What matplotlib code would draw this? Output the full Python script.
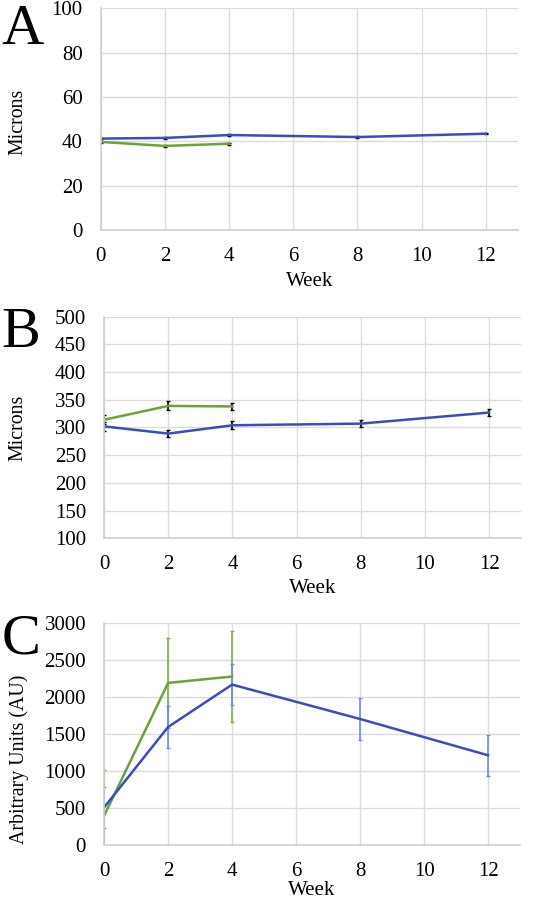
import matplotlib
matplotlib.use("Agg")
import matplotlib.pyplot as plt

plt.rcParams['font.family'] = ['Liberation Serif', 'DejaVu Serif']

weeks_blue = [0, 2, 4, 8, 12]
weeks_green = [0, 2, 4]

a_blue = [41.3, 41.6, 42.9, 42.0, 43.5]
a_blue_err = [0.4, 0.4, 0.4, 0.4, 0.3]
a_green = [39.8, 38.0, 39.0]
a_green_err = [0.5, 0.5, 0.5]

b_blue = [302, 289, 304, 307, 327]
b_blue_err = [8, 6, 7, 6, 6]
b_green = [314, 339, 338]
b_green_err = [8, 8, 7]

c_blue = [509, 1594, 2166, 1702, 1212]
c_blue_err = [280, 277, 280, 277, 279]
c_green = [396, 2189, 2275]
c_green_err = [615, 605, 610]

BLUE = '#3B4CC0'
GREEN = '#6BA33A'
BLUE_ERR = '#6E8FDA'
GREEN_ERR = '#7DAF4A'
GRID = '#DCDCDC'

fig = plt.figure(figsize=(5.48, 9.0), dpi=100)

def style(ax, ylim, yticks, ylabel, lx, ly, xpad=4):
    ax.set_xlim(0, 13)
    ax.set_ylim(*ylim)
    ax.set_xticks(range(0, 13, 2))
    ax.set_yticks(yticks)
    ax.grid(True, color=GRID, linewidth=1.0)
    ax.set_axisbelow(True)
    for s in ['top', 'right']:
        ax.spines[s].set_visible(False)
    for s in ['left', 'bottom']:
        ax.spines[s].set_color('#D0D0D0')
        ax.spines[s].set_linewidth(1.2)
    ax.tick_params(axis='x', length=0, labelsize=15, pad=12)
    ax.tick_params(axis='y', length=0, labelsize=15, pad=13)
    ax.set_xlabel('Week', fontsize=15, labelpad=xpad)
    ax.set_ylabel(ylabel, fontsize=14.3)
    ax.yaxis.set_label_coords(lx, ly)

axA = fig.add_axes([0.184, 0.744, 0.761, 0.247])
axA.errorbar(weeks_green, a_green, yerr=a_green_err, color=GREEN, ecolor='black',
             capsize=1.5, elinewidth=1.2, linewidth=1.8)
axA.errorbar(weeks_blue, a_blue, yerr=a_blue_err, color=BLUE, ecolor='black',
             capsize=1.5, elinewidth=1.2, linewidth=1.8)
style(axA, (0, 100), range(0, 101, 20), 'Microns', -0.177, 0.49)

axB = fig.add_axes([0.190, 0.402, 0.761, 0.246])
axB.errorbar(weeks_green, b_green, yerr=b_green_err, color=GREEN, ecolor='black',
             capsize=1.5, elinewidth=1.2, linewidth=1.8)
axB.errorbar(weeks_blue, b_blue, yerr=b_blue_err, color=BLUE, ecolor='black',
             capsize=1.5, elinewidth=1.2, linewidth=1.8)
style(axB, (100, 500), range(100, 501, 50), 'Microns', -0.185, 0.5)

axC = fig.add_axes([0.190, 0.061, 0.759, 0.247])
axC.errorbar(weeks_green, c_green, yerr=c_green_err, color=GREEN, ecolor=GREEN_ERR,
             capsize=1.5, elinewidth=1.2, linewidth=1.8)
axC.errorbar(weeks_blue, c_blue, yerr=c_blue_err, color=BLUE, ecolor=BLUE_ERR,
             capsize=1.5, elinewidth=1.2, linewidth=1.8)
style(axC, (0, 3000), range(0, 3001, 500), 'Arbitrary Units (AU)', -0.18, 0.385, xpad=0)

fig.text(0.003, 0.995, 'A', fontsize=42, va='top', ha='left')
fig.text(0.003, 0.659, 'B', fontsize=42, va='top', ha='left')
fig.text(0.003, 0.318, 'C', fontsize=42, va='top', ha='left')

fig.savefig('out.png', dpi=100)
